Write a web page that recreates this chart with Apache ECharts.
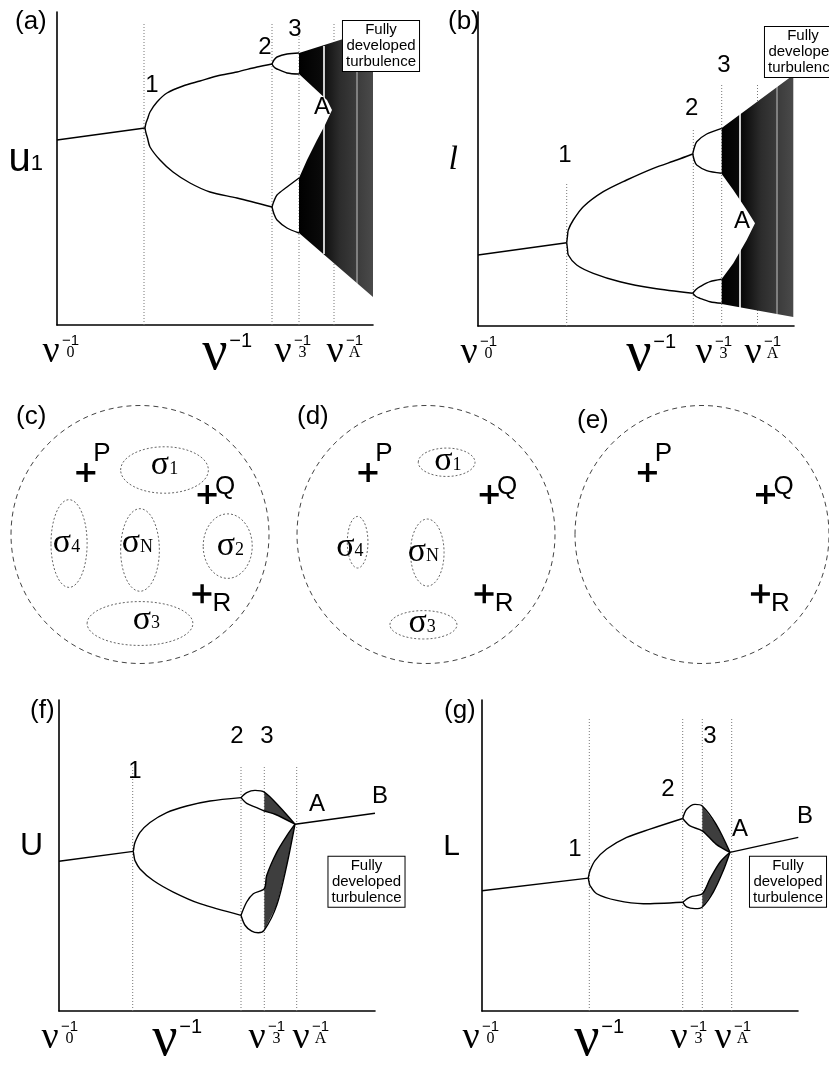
<!DOCTYPE html>
<html>
<head>
<meta charset="utf-8">
<script src="https://cdn.jsdelivr.net/npm/echarts@6/dist/echarts.min.js"></script>
<style>
html, body { margin: 0; padding: 0; background: #fff; }
#fig { width: 829px; height: 1068px; }
</style>
</head>
<body>
<div id="fig"></div>
<script>
var SANS = 'Liberation Sans, Arial, sans-serif';
var SERIF = 'Liberation Serif, Times New Roman, serif';

// ---- panel (a): u1 against 1/nu (units: px from the axis corner) ----
var aStem = [[0, 185], [88, 197]];
var aUp1 = [[88, 197], [89, 202], [90.5, 206], [93, 213], [100, 223], [110, 232], [126, 239], [143, 244], [160, 249], [180, 253], [200, 258], [215, 261]];
var aLo1 = [[88, 197], [89, 192], [90.5, 187], [93, 178], [103, 165], [116, 153], [133, 142], [153, 133], [180, 127], [215, 118]];
var aUp2 = [[215, 261], [217, 265], [220, 268], [230, 271], [242, 272]];
var aUp2b = [[215, 261], [217, 258], [220, 256], [230, 252], [242, 251]];
var aLo2 = [[215, 118], [217, 124], [220, 130], [230, 138], [242, 147]];
var aLo2b = [[215, 118], [217, 111], [220, 105], [230, 97], [242, 92]];
var aChaos = [[242, 272], [283, 285], [316, 295], [316, 28], [242, 92], [242, 147], [250, 165], [260, 185], [268, 200], [275, 215], [270, 225], [256, 238], [242, 251]];
var aWindows = [[267, 279, 71], [300, 290, 36]];
var aDots = [[87, 303], [215, 303], [242, 303], [277, 303]];
var aNums = [['1', 95, 240], ['2', 208, 278], ['3', 238, 296], ['A', 265, 218]];
var aBox = [324, 279];
var aTicks = [5, 171, 237, 289];

// ---- panel (b): l against 1/nu ----
var bStem = [[0, 71], [88.7, 83.3]];
var bUp1 = [[88.7, 83.3], [89.5, 90], [90.3, 96], [95.3, 106], [105.3, 119.3], [125.3, 134.3], [148.7, 146], [175.3, 157.7], [198.7, 166], [214.7, 172]];
var bLo1 = [[88.7, 83.3], [89.5, 77], [90.3, 71], [98.7, 61], [115.3, 52.7], [142, 44.3], [175.3, 37.7], [214.7, 32.7]];
var bUp2 = [[214.7, 172], [216.5, 179], [218.7, 184.3], [228.7, 192], [243.7, 197.7]];
var bUp2b = [[214.7, 172], [216.5, 165], [218.7, 161], [228.7, 155.3], [243.7, 152.7]];
var bLo2 = [[214.7, 32.7], [218, 36.5], [222, 39.3], [232, 44.3], [243.7, 46.7]];
var bLo2b = [[214.7, 32.7], [218, 29.5], [222, 27.7], [232, 24.3], [243.7, 22.7]];
var bChaos = [[243.7, 198], [315.3, 251], [315.3, 9], [243.7, 22], [243.7, 47], [255.3, 62.7], [268.7, 86], [277, 102.7], [268.7, 116], [255.3, 136], [243.7, 152]];
var bWindows = [[262, 220, 17], [299, 240, 12]];
var bDots = [[88.7, 143], [215.3, 198], [243.7, 241], [279.5, 241]];
var bNums = [['1', 87, 171], ['2', 213.7, 218], ['3', 246, 261], ['A', 264, 105]];
var bBox = [325, 274];
var bTicks = [2, 174, 237, 286];

// ---- panel (f): U against 1/nu ----
var fStem = [[0, 150.7], [74.3, 160.7]];
var fUp1 = [[74.3, 160.7], [75, 165.5], [76, 169.7], [81, 179.7], [91, 189.7], [107.7, 199.7], [127.7, 206.3], [151, 211.3], [182, 214.7]];
var fLo1 = [[74.3, 160.7], [75, 156], [76, 151.3], [81, 143], [94.3, 131.3], [114.3, 119.7], [141, 108], [182, 96.3]];
var fUpTop = [[182, 214.7], [187.7, 219.7], [196, 222], [205.3, 220.3], [220, 206], [236, 188]];
var fUpBot = [[182, 214.7], [187.7, 209], [197.7, 204.7], [205.3, 201.3], [216, 198], [236, 188]];
var fUpFan = [[205.3, 220.3], [220, 206], [236, 188], [216, 198], [205.3, 201.3]];
var fLoTop = [[182, 96.3], [187.7, 109.7], [194.3, 118], [205.3, 123], [207.7, 136.3], [217.7, 159.7], [227.7, 176.3], [236, 188]];
var fLoBot = [[182, 96.3], [186, 86.3], [192.7, 80.3], [199.3, 78.7], [205.3, 81.3], [217.7, 106.3], [227.7, 146.3], [236, 188]];
var fLoFan = [[205.3, 123], [207.7, 136.3], [217.7, 159.7], [227.7, 176.3], [236, 188], [227.7, 146.3], [217.7, 106.3], [205.3, 81.3]];
var fAB = [[236, 188], [316, 199]];
var fDots = [[73.7, 245], [182, 246], [205.3, 246], [237.7, 246]];
var fNums = [['1', 76, 241], ['2', 178, 276], ['3', 208, 276], ['A', 258, 208], ['B', 321, 216]];
var fBox = [307.5, 130];
var fTicks = [2, 119, 209, 253];

// ---- panel (g): L against 1/nu ----
var gStem = [[0, 121], [106.3, 133.7]];
var gUp1 = [[106.3, 133.7], [107, 137.5], [108, 141.3], [113, 151.3], [124.7, 163], [144.7, 174.7], [168, 183], [200.7, 193.7]];
var gLo1 = [[106.3, 133.7], [107, 130], [108, 126.3], [114.7, 118], [134.7, 111.3], [161.3, 108], [200.7, 109.5]];
var gUpTop = [[200.7, 193.7], [204.7, 203], [213, 208], [220.3, 206.3], [234, 188], [248, 159.7]];
var gUpBot = [[200.7, 193.7], [208, 186.3], [220.3, 181.3], [234, 168], [248, 159.7]];
var gUpFan = [[220.3, 206.3], [234, 188], [248, 159.7], [234, 168], [220.3, 181.3]];
var gLoTop = [[200.7, 109.5], [208, 114.7], [220.3, 118], [228, 133], [238, 149.7], [248, 159.7]];
var gLoBot = [[200.7, 109.5], [204.7, 104.7], [213, 103], [220.3, 104.7], [231.3, 119.7], [241.3, 141.3], [248, 159.7]];
var gLoFan = [[220.3, 118], [228, 133], [238, 149.7], [248, 159.7], [241.3, 141.3], [231.3, 119.7], [220.3, 104.7]];
var gAB = [[248, 159.7], [316.3, 174.7]];
var gDots = [[107.3, 295], [200.7, 295], [220.3, 295], [249.7, 295]];
var gNums = [['1', 93, 163], ['2', 186, 223], ['3', 228, 276], ['A', 258, 183], ['B', 323, 196]];
var gBox = [306, 130];
var gTicks = [0, 118, 208, 252];

var tickSubs = ['0', '', '3', 'A'];

// ---- panels (c), (d), (e): state space, unit = radius of the dashed circle ----
var pqrNames = ['P', 'Q', 'R'];
var cPts = [[-0.42, 0.48], [0.52, 0.31], [0.48, -0.46]];
var dPts = [[-0.45, 0.48], [0.49, 0.31], [0.45, -0.46]];
var ePts = [[-0.43, 0.48], [0.5, 0.31], [0.46, -0.46]];
// subscript, centre x, centre y, radius x, radius y, label x, label y
var cBlobs = [['1', 0.19, 0.5, 0.34, 0.18, 0.19, 0.54], ['4', -0.55, -0.07, 0.14, 0.34, -0.57, -0.07], ['N', 0, -0.12, 0.15, 0.32, -0.02, -0.07], ['2', 0.68, -0.09, 0.19, 0.25, 0.7, -0.09], ['3', 0, -0.69, 0.41, 0.17, 0.05, -0.66]];
var dBlobs = [['1', 0.16, 0.56, 0.22, 0.11, 0.17, 0.57], ['4', -0.53, -0.06, 0.08, 0.2, -0.59, -0.1], ['N', 0.01, -0.14, 0.13, 0.26, -0.02, -0.14], ['3', -0.02, -0.7, 0.26, 0.11, -0.03, -0.69]];
var ring = [[0, 0, 1, 1]];

var myChart = echarts.init(document.getElementById('fig'));

var nuRich = {
    g: { fontFamily: SERIF, fontSize: 38, color: 'rgba(0,0,0,0)', lineHeight: 4 },
    p: { fontFamily: SANS, fontSize: 15, lineHeight: 4, width: 22, align: 'left', color: '#000' },
    v: { fontFamily: SERIF, fontSize: 38, lineHeight: 18, color: '#000' },
    b: { fontFamily: SERIF, fontSize: 16, lineHeight: 1, verticalAlign: 'bottom', width: 22, align: 'left', color: '#000' },
    G: { fontFamily: SERIF, fontSize: 56, color: 'rgba(0,0,0,0)', lineHeight: 4 },
    P: { fontFamily: SANS, fontSize: 20, lineHeight: 4, width: 26, align: 'left', color: '#000' },
    V: { fontFamily: SERIF, fontSize: 56, lineHeight: 22, color: '#000' },
    B: { fontFamily: SERIF, fontSize: 16, lineHeight: 2, width: 26, align: 'left' }
};

function nuFormatter(ticks) {
    return function (val) {
        var i = ticks.indexOf(val);
        if (tickSubs[i] === '') return '{G|ν}{P|−1}\n{V|ν}{B| }';
        return '{g|ν}{p|−1}\n{v|ν}{b|' + tickSubs[i] + '}';
    };
}

var grids = [
    { left: 57, top: 12, width: 316, height: 313 },
    { left: 478, top: 12, width: 316, height: 314 },
    { left: 59, top: 700, width: 316, height: 313 },
    { left: 482, top: 700, width: 316, height: 313 },
    { left: 11, top: 405.5, width: 258, height: 258 },
    { left: 297, top: 405.5, width: 258, height: 258 },
    { left: 575, top: 405.5, width: 258, height: 258 }
];

var axisLine = { show: true, onZero: false, lineStyle: { color: '#000', width: 1.6 } };

function bifX(gi, ticks) {
    return {
        gridIndex: gi, type: 'value', min: 0, max: 316,
        axisLine: axisLine, axisTick: { show: false }, splitLine: { show: false },
        axisLabel: { show: true, customValues: ticks, formatter: nuFormatter(ticks), margin: 14, rich: nuRich }
    };
}
function bifY(gi, max, name, gap, rich) {
    return {
        gridIndex: gi, type: 'value', min: 0, max: max,
        axisLine: axisLine, axisTick: { show: false }, splitLine: { show: false }, axisLabel: { show: false },
        name: name, nameLocation: 'middle', nameRotate: 0, nameGap: gap,
        nameTextStyle: { color: '#000', padding: [0, 0, 18, 0], rich: rich }
    };
}
function hidden(gi) {
    return { gridIndex: gi, type: 'value', min: -1, max: 1, show: false };
}

var xAxes = [bifX(0, aTicks), bifX(1, bTicks), bifX(2, fTicks), bifX(3, gTicks), hidden(4), hidden(5), hidden(6)];
var yAxes = [
    bifY(0, 313, '{u|u}{s|1}', 14, { u: { fontFamily: SANS, fontSize: 40, lineHeight: 30 }, s: { fontFamily: SANS, fontSize: 22, lineHeight: 6, verticalAlign: 'bottom' } }),
    bifY(1, 314, '{l|l}', 20, { l: { fontFamily: SERIF, fontStyle: 'italic', fontSize: 34 } }),
    bifY(2, 313, '{u|U}', 16, { u: { fontFamily: SANS, fontSize: 32 } }),
    bifY(3, 313, '{u|L}', 22, { u: { fontFamily: SANS, fontSize: 30 } }),
    hidden(4), hidden(5), hidden(6)
];

var series = [];

function curve(gi, data) {
    series.push({
        type: 'line', xAxisIndex: gi, yAxisIndex: gi, data: data, showSymbol: false, symbol: 'none',
        smooth: 0.3, silent: true, z: 4,
        lineStyle: { color: '#000', width: 1.4 }
    });
}
function poly(gi, pts, fill) {
    series.push({
        type: 'custom', xAxisIndex: gi, yAxisIndex: gi, data: pts, silent: true, z: 2,
        renderItem: function (params, api) {
            if (params.dataIndex !== 0) return;
            return {
                type: 'polygon',
                shape: { points: pts.map(function (p) { return api.coord(p); }) },
                style: { fill: fill, stroke: null }
            };
        }
    });
}
function dots(gi, list) {
    list.forEach(function (d) {
        series.push({
            type: 'line', xAxisIndex: gi, yAxisIndex: gi, data: [[d[0], 0], [d[0], d[1]]],
            showSymbol: false, symbol: 'none', silent: true, z: 1,
            lineStyle: { color: '#777', width: 1, type: [1, 2] }
        });
    });
}
function windows(gi, list) {
    list.forEach(function (w, i) {
        series.push({
            type: 'line', xAxisIndex: gi, yAxisIndex: gi, data: [[w[0], w[1]], [w[0], w[2]]],
            showSymbol: false, symbol: 'none', silent: true, z: 3,
            lineStyle: { color: '#fff', width: i === 0 ? 1.6 : 1, opacity: i === 0 ? 1 : 0.7 }
        });
    });
}
var plainItem = { color: 'rgba(0,0,0,0)', opacity: 1 };
function nums(gi, list) {
    series.push({
        type: 'scatter', xAxisIndex: gi, yAxisIndex: gi, clip: false, silent: true, z: 6,
        symbolSize: 1, itemStyle: plainItem,
        data: list.map(function (n) { return { name: n[0], value: [n[1], n[2]] }; }),
        label: { show: true, position: 'inside', formatter: '{b}', fontFamily: SANS, fontSize: 24, color: '#000', opacity: 1 }
    });
}
function box(gi, pos) {
    series.push({
        type: 'scatter', xAxisIndex: gi, yAxisIndex: gi, clip: false, silent: true, z: 7,
        symbolSize: 1, itemStyle: plainItem,
        data: [pos],
        label: {
            show: true, position: 'inside', formatter: 'Fully\ndeveloped\nturbulence', opacity: 1,
            fontFamily: SANS, fontSize: 15, lineHeight: 16, color: '#000', align: 'center',
            backgroundColor: '#fff', borderColor: '#000', borderWidth: 1, padding: [1, 3, 1, 3]
        }
    });
}
function ellipses(gi, list, stroke, dash) {
    series.push({
        type: 'custom', xAxisIndex: gi, yAxisIndex: gi, silent: true, z: 2,
        data: list.map(function (b) { return b.length === 4 ? b : [b[1], b[2], b[3], b[4]]; }),
        renderItem: function (params, api) {
            var c = api.coord([api.value(0), api.value(1)]);
            var s = api.size([api.value(2), api.value(3)]);
            return {
                type: 'ellipse',
                shape: { cx: c[0], cy: c[1], rx: s[0], ry: s[1] },
                style: { fill: 'none', stroke: stroke, lineWidth: 1, lineDash: dash }
            };
        }
    });
}
function sigmas(gi, list) {
    series.push({
        type: 'scatter', xAxisIndex: gi, yAxisIndex: gi, silent: true, z: 5,
        symbolSize: 1, itemStyle: plainItem,
        data: list.map(function (b) { return { name: b[0], value: [b[5], b[6]] }; }),
        label: {
            show: true, position: 'inside', opacity: 1,
            formatter: function (p) { return '{s|σ}{b|' + p.name + '}'; },
            rich: {
                s: { fontFamily: SERIF, fontSize: 34, lineHeight: 26, color: '#000' },
                b: { fontFamily: SERIF, fontSize: 18, lineHeight: 4, verticalAlign: 'bottom', color: '#000' }
            }
        }
    });
}
function crosses(gi, pts) {
    var offs = [[16, -19], [18, -8], [20, 10]];
    series.push({
        type: 'scatter', xAxisIndex: gi, yAxisIndex: gi, silent: true, z: 5,
        symbol: 'path://M8,0h3.4v19h-3.4zM0,8h19v3.4h-19z', symbolSize: 19,
        itemStyle: { color: '#000', opacity: 1 },
        data: pts.map(function (p, i) {
            return { name: pqrNames[i], value: p, label: { offset: offs[i] } };
        }),
        label: { show: true, position: 'inside', formatter: '{b}', fontFamily: SANS, fontSize: 26, color: '#000', opacity: 1 }
    });
}

var chaosFill = new echarts.graphic.LinearGradient(0, 0, 1, 0, [
    { offset: 0, color: '#000' }, { offset: 0.3, color: '#0a0a0a' },
    { offset: 0.55, color: '#2c2c2c' }, { offset: 1, color: '#4a4a4a' }
]);
var fanFill = 'rgba(20,20,20,0.82)';

// (a)
dots(0, aDots);
poly(0, aChaos, chaosFill);
windows(0, aWindows);
[aStem, aUp1, aLo1, aUp2, aUp2b, aLo2, aLo2b].forEach(function (d) { curve(0, d); });
nums(0, aNums);
box(0, aBox);
// (b)
dots(1, bDots);
poly(1, bChaos, chaosFill);
windows(1, bWindows);
[bStem, bUp1, bLo1, bUp2, bUp2b, bLo2, bLo2b].forEach(function (d) { curve(1, d); });
nums(1, bNums);
box(1, bBox);
// (f)
dots(2, fDots);
poly(2, fUpFan, fanFill);
poly(2, fLoFan, fanFill);
[fStem, fUp1, fLo1, fUpTop, fUpBot, fLoTop, fLoBot, fAB].forEach(function (d) { curve(2, d); });
nums(2, fNums);
box(2, fBox);
// (g)
dots(3, gDots);
poly(3, gUpFan, fanFill);
poly(3, gLoFan, fanFill);
[gStem, gUp1, gLo1, gUpTop, gUpBot, gLoTop, gLoBot, gAB].forEach(function (d) { curve(3, d); });
nums(3, gNums);
box(3, gBox);
// (c) (d) (e)
ellipses(4, ring, '#444', [5, 4]);
ellipses(5, ring, '#444', [5, 4]);
ellipses(6, ring, '#444', [5, 4]);
ellipses(4, cBlobs, '#666', [2, 2]);
ellipses(5, dBlobs, '#666', [2, 2]);
sigmas(4, cBlobs);
sigmas(5, dBlobs);
crosses(4, cPts);
crosses(5, dPts);
crosses(6, ePts);

var letterStyle = { fontFamily: SANS, fontSize: 26, fontWeight: 'normal', color: '#000' };
var letters = [['(a)', 15, 9], ['(b)', 448, 9], ['(c)', 16, 404], ['(d)', 297, 404], ['(e)', 577, 408], ['(f)', 30, 698], ['(g)', 444, 698]];

var option = {
    animation: false,
    backgroundColor: '#fff',
    title: letters.map(function (l) {
        return { text: l[0], left: l[1], top: l[2], padding: 0, textStyle: letterStyle };
    }),
    grid: grids,
    xAxis: xAxes,
    yAxis: yAxes,
    series: series
};

myChart.setOption(option);
</script>
</body>
</html>
